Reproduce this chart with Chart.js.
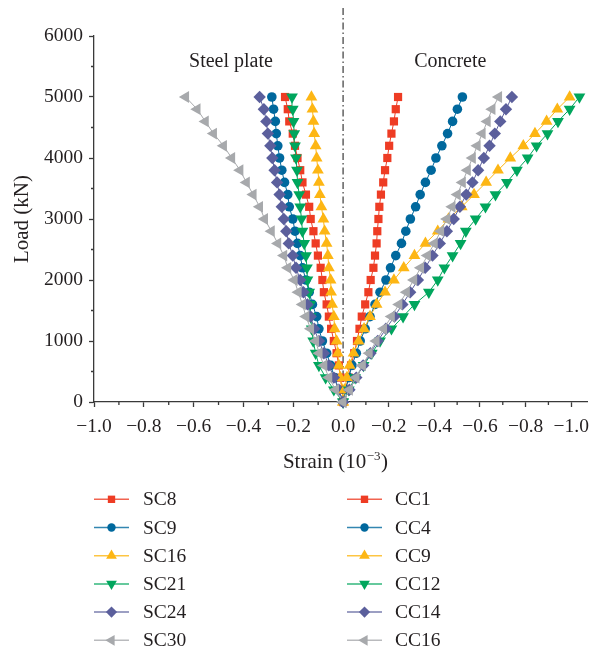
<!DOCTYPE html>
<html>
<head>
<meta charset="utf-8">
<title>Load - strain</title>
<script src="https://cdn.jsdelivr.net/npm/chart.js@4.4.0/dist/chart.umd.min.js"></script>
<style>
  html, body { margin: 0; padding: 0; background: #fff; }
</style>
</head>
<body>
<canvas id="myChart" width="594" height="654"></canvas>
<script>
// load steps (kN)
const loads = [0, 200, 400, 600, 800, 1000, 1200, 1400, 1600, 1800, 2000, 2200, 2400,
  2600, 2800, 3000, 3200, 3400, 3600, 3800, 4000, 4200, 4400, 4600, 4800, 5000];

// steel plate strain (10^-3), left half
const sc8 = [0, -0.004, -0.011, -0.017, -0.026, -0.037, -0.048, -0.057, -0.066, -0.077, -0.083, -0.090, -0.101,
  -0.110, -0.119, -0.130, -0.136, -0.149, -0.163, -0.172, -0.183, -0.193, -0.202, -0.216, -0.222, -0.233];
const sc9 = [0, -0.017, -0.034, -0.050, -0.066, -0.083, -0.097, -0.106, -0.123, -0.136, -0.149, -0.163, -0.172,
  -0.183, -0.193, -0.202, -0.216, -0.222, -0.235, -0.246, -0.255, -0.262, -0.268, -0.272, -0.279, -0.286];
const sc16 = [0, -0.004, -0.011, -0.017, -0.021, -0.026, -0.034, -0.037, -0.044, -0.048, -0.050, -0.057, -0.061,
  -0.066, -0.074, -0.079, -0.087, -0.093, -0.097, -0.101, -0.106, -0.110, -0.116, -0.119, -0.123, -0.127];
const sc21 = [0, -0.037, -0.070, -0.097, -0.110, -0.120, -0.126, -0.130, -0.132, -0.136, -0.143, -0.145, -0.149,
  -0.156, -0.163, -0.167, -0.172, -0.176, -0.183, -0.185, -0.189, -0.193, -0.196, -0.199, -0.202, -0.205];
const sc24 = [0, -0.017, -0.037, -0.057, -0.077, -0.097, -0.116, -0.130, -0.143, -0.159, -0.172, -0.189, -0.202,
  -0.218, -0.228, -0.238, -0.246, -0.255, -0.265, -0.275, -0.284, -0.292, -0.302, -0.308, -0.318, -0.335];
const sc30 = [0, -0.030, -0.057, -0.077, -0.096, -0.110, -0.130, -0.149, -0.163, -0.180, -0.196, -0.222, -0.238,
  -0.262, -0.288, -0.315, -0.335, -0.361, -0.388, -0.414, -0.447, -0.480, -0.520, -0.553, -0.586, -0.632];

// concrete strain (10^-3), drawn mirrored on the right half
const cc1 = [0, -0.010, -0.025, -0.035, -0.049, -0.061, -0.072, -0.082, -0.097, -0.111, -0.121, -0.133, -0.140,
  -0.147, -0.150, -0.155, -0.159, -0.166, -0.176, -0.184, -0.194, -0.202, -0.212, -0.223, -0.231, -0.241];
const cc4 = [0, -0.010, -0.025, -0.039, -0.058, -0.075, -0.097, -0.118, -0.140, -0.162, -0.188, -0.208, -0.231,
  -0.256, -0.275, -0.295, -0.318, -0.338, -0.361, -0.386, -0.407, -0.433, -0.458, -0.480, -0.501, -0.523];
const cc9 = [0, -0.006, -0.017, -0.029, -0.046, -0.068, -0.092, -0.118, -0.147, -0.184, -0.223, -0.266, -0.313,
  -0.361, -0.415, -0.462, -0.520, -0.574, -0.627, -0.679, -0.733, -0.790, -0.841, -0.892, -0.939, -0.993];
const cc12 = [0, -0.025, -0.053, -0.090, -0.126, -0.162, -0.212, -0.263, -0.313, -0.376, -0.415, -0.444, -0.480,
  -0.515, -0.538, -0.581, -0.624, -0.668, -0.718, -0.762, -0.809, -0.848, -0.896, -0.942, -0.993, -1.036];
const cc14 = [0, -0.028, -0.058, -0.088, -0.120, -0.152, -0.188, -0.225, -0.260, -0.294, -0.328, -0.360, -0.392,
  -0.424, -0.455, -0.485, -0.512, -0.540, -0.567, -0.592, -0.617, -0.642, -0.665, -0.689, -0.714, -0.740];
const cc16 = [0, -0.028, -0.057, -0.085, -0.115, -0.145, -0.178, -0.212, -0.245, -0.278, -0.310, -0.340, -0.370,
  -0.400, -0.428, -0.455, -0.478, -0.501, -0.523, -0.545, -0.567, -0.588, -0.610, -0.632, -0.653, -0.682];

const steelNames = ["SC8", "SC9", "SC16", "SC21", "SC24", "SC30"];
const concreteNames = ["CC1", "CC4", "CC9", "CC12", "CC14", "CC16"];

// axis ticks (right half labels show the mirrored concrete strain)
const xTicks = [-1.0, -0.8, -0.6, -0.4, -0.2, 0, 0.2, 0.4, 0.6, 0.8, 1.0];
const xMinor = [-0.9, -0.7, -0.5, -0.3, -0.1, 0.1, 0.3, 0.5, 0.7, 0.9];
const yTicks = [0, 1000, 2000, 3000, 4000, 5000, 6000];
const yMinor = [500, 1500, 2500, 3500, 4500, 5500];

// styles
const colors = ["#ee3c24", "#00689d", "#fdb614", "#00a65d", "#5b5f9c", "#a7a9ac"];
const shapes = ["rect", "circle", "triangle", "triangle", "rectRot", "triangle"];
const turns = [0, 0, 0, 180, 0, -90];
const sizes = [5.8, 4.8, 6.8, 6.8, 6.2, 6.8];
const FONT = "'Liberation Serif', 'Times New Roman', serif";
const INK = "#231f20";
const ZERO_AT = 0.505; // where 0 sits across the x axis (right half is a bit tighter)

// x scale: two linear halves joined at 0
class SplitScale extends Chart.LinearScale {
  static id = "split";
  static defaults = Chart.LinearScale.defaults;
  getPixelForValue(value) {
    if (value === null || isNaN(value)) return NaN;
    const z = this.left + (this.right - this.left) * ZERO_AT;
    if (value <= 0) return z - (value / this.min) * (z - this.left);
    return z + (value / this.max) * (this.right - z);
  }
  getValueForPixel(pixel) {
    const z = this.left + (this.right - this.left) * ZERO_AT;
    if (pixel <= z) return this.min * (z - pixel) / (z - this.left);
    return this.max * (pixel - z) / (this.right - z);
  }
}
Chart.register(SplitScale);

function makeSet(name, values, k, mirror) {
  return {
    label: name,
    data: values.map((v, i) => ({ x: mirror ? -v : v, y: loads[i] })),
    borderColor: colors[k],
    backgroundColor: colors[k],
    borderWidth: 1,
    pointStyle: shapes[k],
    pointRotation: turns[k],
    pointRadius: sizes[k],
    pointBorderWidth: 0,
    pointBackgroundColor: colors[k],
    clip: false
  };
}

const datasets = [];
[sc8, sc9, sc16, sc21, sc24, sc30].forEach((s, k) => datasets.push(makeSet(steelNames[k], s, k, false)));
[cc1, cc4, cc9, cc12, cc14, cc16].forEach((s, k) => datasets.push(makeSet(concreteNames[k], s, k, true)));
// later series on top
datasets.forEach((d, i) => { d.order = 100 - i; });

const extras = {
  id: "extras",
  beforeDatasetsDraw(chart) {
    const ctx = chart.ctx;
    const x0 = chart.scales.x.getPixelForValue(0);
    ctx.save();
    ctx.strokeStyle = "#111";
    ctx.lineWidth = 1;
    ctx.setLineDash([7, 3, 1.5, 3]);
    ctx.beginPath();
    ctx.moveTo(x0, 8);
    ctx.lineTo(x0, chart.chartArea.bottom);
    ctx.stroke();
    ctx.restore();
  },
  afterDraw(chart) {
    const ctx = chart.ctx;
    const xs = chart.scales.x, ys = chart.scales.y;
    const area = chart.chartArea;
    ctx.save();
    // minor ticks
    ctx.strokeStyle = "#3a3a3a";
    ctx.lineWidth = 1.3;
    ctx.beginPath();
    xMinor.forEach(v => {
      const px = xs.getPixelForValue(v);
      ctx.moveTo(px, area.bottom);
      ctx.lineTo(px, area.bottom + 3);
    });
    yMinor.forEach(v => {
      const py = ys.getPixelForValue(v);
      ctx.moveTo(area.left, py);
      ctx.lineTo(area.left - 3, py);
    });
    ctx.stroke();

    ctx.fillStyle = INK;
    // notes
    ctx.font = "20px " + FONT;
    ctx.textAlign = "center";
    ctx.textBaseline = "middle";
    ctx.fillText("Steel plate", xs.getPixelForValue(-0.45), ys.getPixelForValue(5580));
    ctx.fillText("Concrete", xs.getPixelForValue(0.47), ys.getPixelForValue(5570));

    // y title
    ctx.save();
    ctx.translate(22, 219);
    ctx.rotate(-Math.PI / 2);
    ctx.font = "21px " + FONT;
    ctx.fillText("Load (kN)", 0, 0);
    ctx.restore();

    // x title with superscript
    ctx.textAlign = "left";
    ctx.textBaseline = "alphabetic";
    const big = "21px " + FONT, small = "13px " + FONT;
    ctx.font = big;
    const w1 = ctx.measureText("Strain (10").width;
    const w3 = ctx.measureText(")").width;
    ctx.font = small;
    const w2 = ctx.measureText("\u22123").width;
    let tx = 335 - (w1 + w2 + w3) / 2;
    const ty = 468;
    ctx.font = big;
    ctx.fillText("Strain (10", tx, ty);
    ctx.font = small;
    ctx.fillText("\u22123", tx + w1 + 0.5, ty - 8);
    ctx.font = big;
    ctx.fillText(")", tx + w1 + w2 + 1, ty);

    // legend, two columns
    ctx.font = "19.5px " + FONT;
    ctx.textBaseline = "middle";
    chart.data.datasets.forEach((d, i) => {
      const col = i < 6 ? 0 : 1;
      const row = i % 6;
      const lx = col ? 347 : 94;
      const ly = 499.3 + row * 28.2;
      ctx.strokeStyle = d.borderColor;
      ctx.globalAlpha = 0.8;
      ctx.lineWidth = 1.5;
      ctx.setLineDash([]);
      ctx.beginPath();
      ctx.moveTo(lx, ly);
      ctx.lineTo(lx + 35, ly);
      ctx.stroke();
      ctx.globalAlpha = 1;
      ctx.fillStyle = d.backgroundColor;
      Chart.helpers.drawPoint(ctx, {
        pointStyle: d.pointStyle, radius: d.pointRadius - 0.6, rotation: d.pointRotation, borderWidth: 0
      }, lx + 17.5, ly);
      ctx.fillStyle = INK;
      ctx.fillText(d.label, col ? 395 : 143, ly + 1);
    });
    ctx.restore();
  }
};

const axisLine = { color: "#3a3a3a", width: 1.3 };
const tickGrid = { drawOnChartArea: false, drawTicks: true, tickLength: 5, tickColor: "#3a3a3a", tickWidth: 1.3 };

new Chart(document.getElementById("myChart"), {
  type: "line",
  data: { datasets },
  options: {
    responsive: false,
    animation: false,
    layout: { padding: { left: 0, right: 1, top: 36, bottom: 0 } },
    plugins: { legend: { display: false }, tooltip: { enabled: false } },
    scales: {
      x: {
        type: "split",
        position: "bottom",
        min: -1.0,
        max: 1.07,
        border: axisLine,
        grid: tickGrid,
        afterBuildTicks: s => { s.ticks = xTicks.map(v => ({ value: v })); },
        afterFit: s => { s.height = 252; s.paddingLeft = 0; s.paddingRight = 0; },
        ticks: {
          autoSkip: false,
          maxRotation: 0,
          padding: 8,
          color: INK,
          font: { family: FONT, size: 19.5 },
          callback: v => (v === 0 ? "0.0" : "\u2212" + Math.abs(v).toFixed(1))
        }
      },
      y: {
        type: "linear",
        position: "left",
        min: 0,
        max: 6000,
        border: axisLine,
        grid: tickGrid,
        afterBuildTicks: s => { s.ticks = yTicks.map(v => ({ value: v })); },
        afterFit: s => { s.width = 94; s.paddingTop = 0; s.paddingBottom = 0; },
        ticks: {
          padding: 6,
          color: INK,
          font: { family: FONT, size: 19.5 },
          callback: v => String(v)
        }
      }
    }
  },
  plugins: [extras]
});
</script>
</body>
</html>
